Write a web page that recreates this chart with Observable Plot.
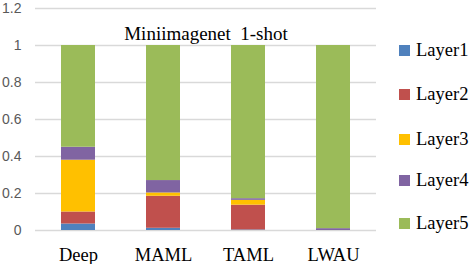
<!DOCTYPE html>
<html><head><meta charset="utf-8">
<script src="https://cdn.jsdelivr.net/npm/d3@7"></script>
<script src="https://cdn.jsdelivr.net/npm/@observablehq/plot@0.6"></script>
<style>
body{margin:0;background:#fff;}
#wrap{position:relative;width:470px;height:264px;}
#legend{position:absolute;left:399px;top:0;font-family:'Liberation Serif','Times New Roman',serif;font-size:18.5px;color:#000;}
.item{position:absolute;left:0;white-space:nowrap;display:flex;align-items:center;}
.sw{width:11px;height:11px;margin-right:6px;flex:none;}
</style>
</head><body>
<div id="wrap"><div id="legend"></div></div>
<script>
const methods = ["Deep", "MAML", "TAML", "LWAU"];
const layers = ["Layer1", "Layer2", "Layer3", "Layer4", "Layer5"];
const colors = ["#4F81BD", "#C0504D", "#FFC000", "#8064A2", "#9BBB59"];
const layer1 = [0.035, 0.012, 0.003, 0.0];
const layer2 = [0.065, 0.173, 0.134, 0.0];
const layer3 = [0.28, 0.018, 0.026, 0.0];
const layer4 = [0.07, 0.067, 0.009, 0.01];
const layer5 = [0.55, 0.73, 0.828, 0.99];
const yTicks = [0, 0.2, 0.4, 0.6, 0.8, 1, 1.2];
const title = "Miniimagenet\u00a0 1-shot";

const series = [layer1, layer2, layer3, layer4, layer5];
const data = [];
methods.forEach((m, i) => layers.forEach((l, j) => data.push({method: m, layer: l, value: series[j][i]})));

const serif = "'Liberation Serif', 'Times New Roman', serif";
const sans = "'Liberation Sans', Arial, sans-serif";

const chart = Plot.plot({
  width: 470, height: 264,
  marginTop: 8, marginBottom: 34, marginLeft: 35, marginRight: 94,
  x: {domain: methods, paddingInner: 0.6, paddingOuter: 0.3, label: null},
  y: {domain: [0, 1.2], label: null},
  color: {domain: layers, range: colors},
  style: {background: "#fff"},
  marks: [
    Plot.gridY(yTicks, {stroke: "#d9d9d9", strokeOpacity: 1, strokeWidth: 1.4}),
    Plot.barY(data, {x: "method", y: "value", fill: "layer", order: layers}),
    Plot.axisY(yTicks, {tickSize: 0, tickPadding: 14, tickFormat: d => String(+d.toFixed(1)), fontSize: 14, fill: "#595959", fontFamily: sans}),
    Plot.axisX({tickSize: 0, tickPadding: 17, fontSize: 18.5, fill: "#000", fontFamily: serif}),
    Plot.text([title], {text: d => d, frameAnchor: "top", dy: 18, fontSize: 19, fill: "#000", fontFamily: serif})
  ]
});
document.getElementById("wrap").prepend(chart);

const legend = document.getElementById("legend");
const centers = [50.5, 94.7, 139.5, 180.5, 223];
layers.forEach((l, i) => {
  const d = document.createElement("div");
  d.className = "item";
  d.style.top = (centers[i] - 12) + "px";
  d.style.height = "24px";
  d.innerHTML = `<span class="sw" style="background:${colors[i]}"></span><span>${l}</span>`;
  legend.appendChild(d);
});
</script>
</body></html>
